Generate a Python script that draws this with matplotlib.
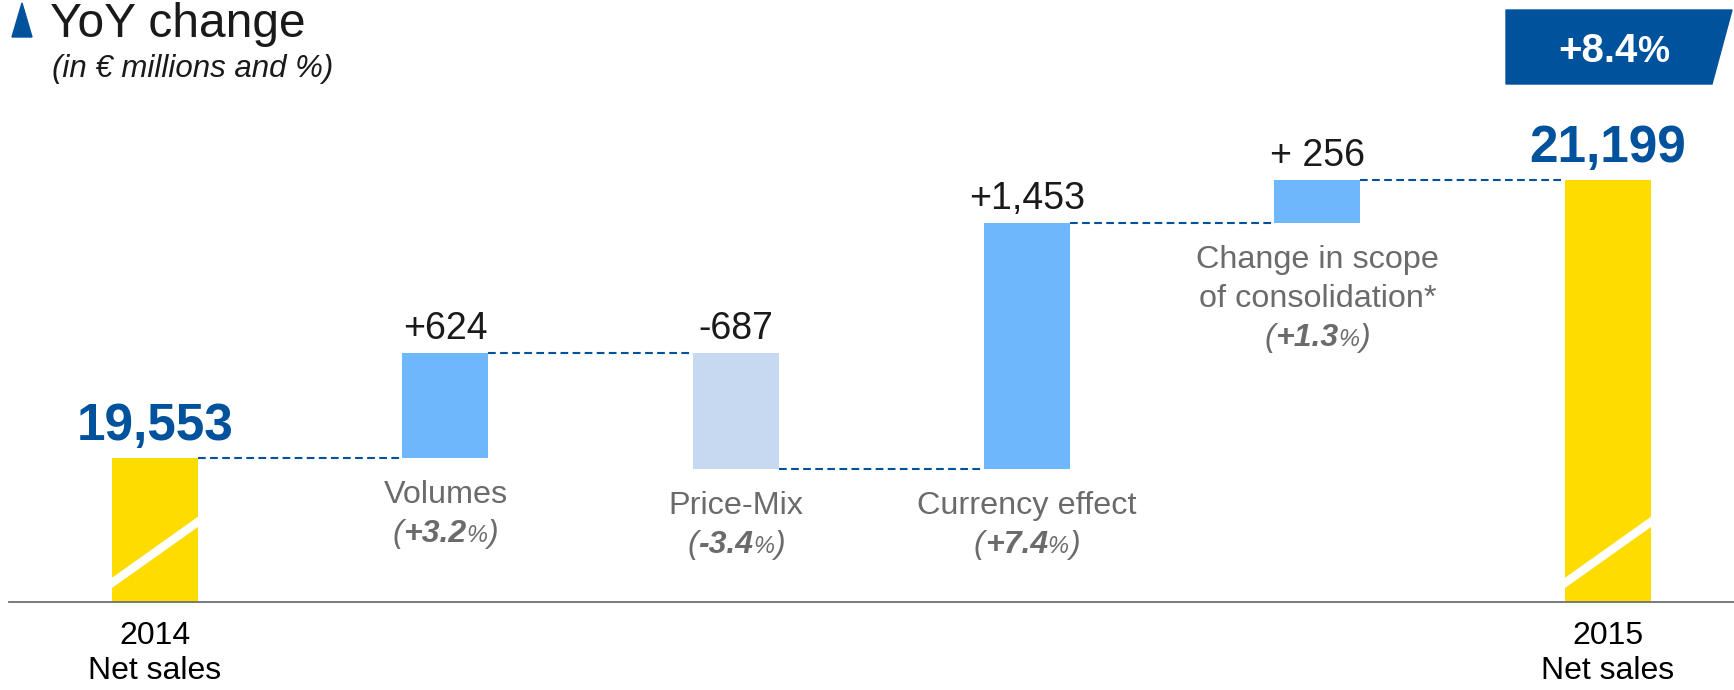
# Net sales bridge 2014 -> 2015 (waterfall)

import matplotlib.pyplot as plt
import matplotlib.transforms as mtransforms
from matplotlib.patches import Polygon

plt.rcParams['font.family'] = ['Liberation Sans', 'DejaVu Sans']

# Data
start_label = '2014\nNet sales'
end_label = '2015\nNet sales'
start_value = 19553
end_value = 21199
step_names = ['Volumes', 'Price-Mix', 'Currency effect', 'Change in scope\nof consolidation*']
step_values = [624, -687, 1453, 256]
step_texts = ['+624', '-687', '+1,453', '+ 256']
step_pcts = ['+3.2', '-3.4', '+7.4', '+1.3']
total_pct = '+8.4'
axis_floor = 18700   # truncated axis (bars are "broken")
axis_top = 22265

# Colours
YELLOW = '#FFDC00'
UP = '#6FB7FD'
DOWN = '#C6D9F0'
NAVY = '#00529C'
GREY = '#6B6B6B'
BLACK = '#1A1A1A'

W, H = 1734, 690
fig = plt.figure(figsize=(W / 100, H / 100), dpi=100)
ax = fig.add_axes([9 / W, 88 / H, (W - 9) / W, 602 / H])

# pixel coords measured from the top-left corner of the picture
px = mtransforms.Affine2D().scale(1 / W, -1 / H).translate(0, 1) + fig.transFigure


def rich_text(xy, dy, pieces, coords='data'):
    # draw text pieces side by side, centred on xy, baseline dy pixels above it
    r = fig.canvas.get_renderer()
    anns = [ax.annotate(s, xy, xycoords=coords, xytext=(0, dy), textcoords='offset pixels',
                        ha='left', va='baseline', annotation_clip=False, **kw)
            for s, kw in pieces]
    widths = [a.get_window_extent(r).width for a in anns]
    left = -sum(widths) / 2
    for a, w in zip(anns, widths):
        a.xyann = (left, dy)
        left += w


# bar geometry
width = 0.296
n = len(step_values) + 2
xs = list(range(n))

bottoms = [axis_floor]
heights = [start_value - axis_floor]
colors = [YELLOW]
level = start_value
levels = [start_value]
for v in step_values:
    bottoms.append(level + min(v, 0))
    heights.append(abs(v))
    colors.append(UP if v > 0 else DOWN)
    level += v
    levels.append(level)
bottoms.append(axis_floor)
heights.append(end_value - axis_floor)
colors.append(YELLOW)

bars = ax.bar(xs, heights, bottom=bottoms, width=width, color=colors, zorder=2)

# white "break" stripes on the two totals
stripe_tf = mtransforms.blended_transform_factory(ax.transData, ax.transAxes)
f0, f1 = 0.0316, 0.133
ext = 0.05
for i in (0, n - 1):
    slope = (f1 - f0) / width
    x0, x1 = xs[i] - width / 2 - ext, xs[i] + width / 2 + ext
    line, = ax.plot([x0, x1], [f0 - slope * ext, f1 + slope * ext], color='white',
                    lw=6, transform=stripe_tf, solid_capstyle='butt', zorder=3)
    line.set_clip_path(bars[i])

# dashed connectors
for i in range(n - 1):
    ax.hlines(levels[i], xs[i] + width / 2, xs[i + 1] - width / 2, color=NAVY,
              lw=1.5, linestyles=(0, (3.7, 2.1)), zorder=1)

# totals labels
for i, v in ((0, start_value), (n - 1, end_value)):
    ax.annotate(f'{v:,}', (xs[i], v), xytext=(0, 18), textcoords='offset pixels',
                ha='center', va='baseline', fontsize=37, fontweight='bold', color=NAVY)

# step labels
for k, v in enumerate(step_values):
    i = k + 1
    top = bottoms[i] + heights[i]
    ax.annotate(step_texts[k], (xs[i], top), xytext=(0, 14), textcoords='offset pixels',
                ha='center', va='baseline', fontsize=27, color=BLACK)
    lines = step_names[k].split('\n')
    dy = -45
    for ln in lines:
        ax.annotate(ln, (xs[i], bottoms[i]), xytext=(0, dy), textcoords='offset pixels',
                    ha='center', va='baseline', fontsize=23.3, color=GREY)
        dy -= 39
    rich_text((xs[i], bottoms[i]), dy, [
        ('(', dict(fontsize=23, style='italic', color=GREY)),
        (step_pcts[k], dict(fontsize=23, style='italic', fontweight='bold', color=GREY)),
        ('%', dict(fontsize=17, style='italic', color=GREY)),
        (')', dict(fontsize=23, style='italic', color=GREY)),
    ])

# axes
ax.set_xlim(-0.502, 5.434)
ax.set_ylim(axis_floor, axis_top)
ax.set_xticks([xs[0], xs[-1]], [start_label, end_label], fontsize=23, color='black')
ax.tick_params(axis='x', length=0, pad=14)
ax.set_yticks([])
for s in ('top', 'left', 'right'):
    ax.spines[s].set_visible(False)
ax.spines['bottom'].set_color('#707070')
ax.spines['bottom'].set_linewidth(1.3)
ax.patch.set_alpha(0)

# title
ax.add_artist(Polygon([(12, 37), (22, 3), (32, 37)], closed=True, color=NAVY,
                      transform=px, clip_on=False))
fig.text(50, 37, 'YoY change', transform=px, fontsize=34.5, color=BLACK, va='baseline')
fig.text(52, 77, '(in € millions and %)', transform=px, fontsize=22.5, style='italic',
         color=BLACK, va='baseline')

# badge with the total change
ax.add_artist(Polygon([(1506, 10), (1732, 10), (1712, 84), (1506, 84)], closed=True,
                      color=NAVY, transform=px, clip_on=False, zorder=5))
rich_text((1614, 62), 0, [
    (total_pct, dict(fontsize=29, fontweight='bold', color='white', zorder=6)),
    ('%', dict(fontsize=26, fontweight='bold', color='white', zorder=6)),
], coords=px)

plt.savefig('out.png', dpi=100)
